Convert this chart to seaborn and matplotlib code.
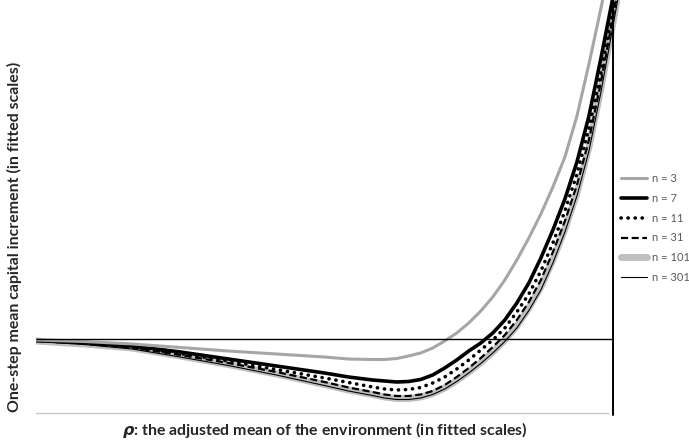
import numpy as np
import pandas as pd
import matplotlib
matplotlib.use("Agg")
import matplotlib.pyplot as plt
import seaborn as sns

# rho grid (fitted scale), y axis sits at rho = 0
rho = [-6.0, -5.5, -5.0, -4.5, -4.0, -3.5, -3.0, -2.75, -2.5, -2.375,
       -2.25, -2.125, -2.0, -1.875, -1.75, -1.625, -1.5, -1.375, -1.25, -1.125,
       -1.0, -0.875, -0.75, -0.625, -0.5, -0.375, -0.25, -0.125, 0.0, 0.075]

# one-step mean capital increment
inc_n3 = [-0.01, -0.025, -0.05, -0.085, -0.12, -0.15, -0.18, -0.20, -0.205, -0.205,
          -0.195, -0.17, -0.14, -0.09, -0.02, 0.06, 0.16, 0.28, 0.42, 0.59,
          0.79, 1.01, 1.25, 1.52, 1.82, 2.23, 2.75, 3.31, 3.89, 4.21]
inc_n7 = [-0.015, -0.035, -0.07, -0.13, -0.20, -0.27, -0.34, -0.38, -0.41, -0.42,
          -0.43, -0.425, -0.405, -0.36, -0.29, -0.21, -0.12, -0.04, 0.06, 0.19,
          0.36, 0.56, 0.81, 1.09, 1.40, 1.77, 2.23, 2.81, 3.42, 3.77]
inc_n11 = [-0.015, -0.04, -0.08, -0.145, -0.22, -0.305, -0.39, -0.435, -0.48, -0.50,
           -0.51, -0.505, -0.485, -0.44, -0.38, -0.30, -0.21, -0.11, -0.01, 0.11,
           0.27, 0.45, 0.68, 0.96, 1.28, 1.65, 2.11, 2.66, 3.29, 3.64]
inc_n31 = [-0.02, -0.045, -0.085, -0.16, -0.24, -0.33, -0.43, -0.485, -0.53, -0.555,
           -0.57, -0.57, -0.555, -0.52, -0.46, -0.38, -0.29, -0.19, -0.08, 0.04,
           0.19, 0.37, 0.59, 0.87, 1.18, 1.54, 1.99, 2.57, 3.22, 3.61]
inc_n101 = [-0.02, -0.05, -0.09, -0.17, -0.255, -0.35, -0.455, -0.51, -0.555, -0.58,
            -0.595, -0.595, -0.58, -0.545, -0.49, -0.415, -0.33, -0.235, -0.13, -0.01,
            0.13, 0.31, 0.52, 0.79, 1.10, 1.46, 1.92, 2.51, 3.17, 3.57]
inc_n301 = [-0.025, -0.055, -0.10, -0.18, -0.265, -0.36, -0.465, -0.52, -0.565, -0.59,
            -0.605, -0.605, -0.59, -0.555, -0.50, -0.425, -0.34, -0.245, -0.14, -0.025,
            0.11, 0.285, 0.49, 0.76, 1.07, 1.43, 1.88, 2.47, 3.13, 3.53]

labels = ["n = 3", "n = 7", "n = 11", "n = 31", "n = 101", "n = 301"]
series = [inc_n3, inc_n7, inc_n11, inc_n31, inc_n101, inc_n301]

sns.set_style("white")
plt.rcParams['font.family'] = ['Lato', 'DejaVu Sans']
plt.rcParams['mathtext.fontset'] = 'custom'
plt.rcParams['mathtext.bf'] = 'DejaVu Sans:bold:italic'

fig = plt.figure(figsize=(6.89, 4.4), dpi=100)
ax = fig.add_axes([36/689, 27/440, (620-36)/689, 413/440])

styles = [
    dict(color="#a6a6a6", linewidth=2.2, zorder=6),
    dict(color="black", linewidth=2.6, zorder=5),
    dict(color="black", linewidth=2.6, linestyle=(0, (0.05, 1.9)),
         dash_capstyle="round", zorder=4),
    dict(color="black", linewidth=1.6, linestyle=(0, (3.2, 1.6)), zorder=3),
    dict(color="#bfbfbf", linewidth=5.0, solid_capstyle="round", zorder=1),
    dict(color="black", linewidth=0.8, zorder=2),
]

for lab, vals, st in zip(labels, series, styles):
    df = pd.DataFrame({"rho": rho, "inc": vals})
    sns.lineplot(data=df, x="rho", y="inc", ax=ax, label=lab, **st)

ax.set_xlim(-6.0, (620-613)/96.17)
ax.set_ylim(-0.74, 3.39)

# axes crossing lines
ax.hlines(0, -6.0, 0, color="black", linewidth=1.0, zorder=7)
ax.axvline(0, ymin=-0.006, ymax=1, color="black", linewidth=1.4, zorder=7, clip_on=False)

for s in ["top", "right", "left"]:
    ax.spines[s].set_visible(False)
ax.spines["bottom"].set_color("#c8c8c8")
ax.spines["bottom"].set_linewidth(1.0)
ax.spines["bottom"].set_bounds(-6.0, -0.05)

ax.set_xticks([])
ax.set_yticks([])
ax.set_xlabel(r"$\mathbf{\rho}$: the adjusted mean of the environment (in fitted scales)",
              fontsize=11.4, fontweight="bold")
ax.set_ylabel("One-step mean capital increment (in fitted scales)",
              fontsize=11.4, fontweight="bold")
ax.xaxis.set_label_coords((325-36)/(620-36), -7/413)
ax.yaxis.set_label_coords(-14/584, (413-237)/413)

leg = ax.legend(loc="center left", bbox_to_anchor=(621/689, 212/440),
                bbox_transform=fig.transFigure, frameon=False, fontsize=8,
                handlelength=2.3, labelspacing=0.8, handletextpad=0.45,
                borderpad=0, borderaxespad=0)
for t in leg.get_texts():
    t.set_color("#595959")

fig.savefig("out.png", dpi=100)
